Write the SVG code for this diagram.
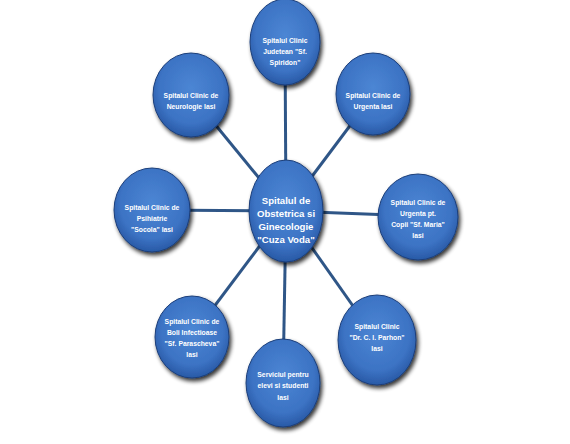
<svg xmlns="http://www.w3.org/2000/svg" width="570" height="444" viewBox="0 0 570 444">
<style>
.n{fill:url(#g);stroke:#1c3f7a;stroke-width:1;filter:url(#sh)}
.t{font-family:"Liberation Sans",Arial,sans-serif;font-size:6.8px;font-weight:bold;fill:#fff;text-anchor:middle}
.tc{font-family:"Liberation Sans",Arial,sans-serif;font-size:9.6px;font-weight:bold;fill:#fff;text-anchor:middle}
.c{stroke:#2f5687;stroke-width:3;fill:none}
</style>
<defs>
<radialGradient id="g" cx="50%" cy="42%" r="60%">
<stop offset="0" stop-color="#4c86d4"/>
<stop offset="0.7" stop-color="#3c73c4"/>
<stop offset="1" stop-color="#2656a2"/>
</radialGradient>
<filter id="sh" x="-30%" y="-30%" width="170%" height="170%">
<feGaussianBlur in="SourceAlpha" stdDeviation="2"/>
<feOffset dx="2" dy="3" result="b"/>
<feComponentTransfer><feFuncA type="linear" slope="0.8"/></feComponentTransfer>
<feMerge><feMergeNode/><feMergeNode in="SourceGraphic"/></feMerge>
</filter>
</defs>
<rect width="570" height="444" fill="#fff"/>
<g id="connectors">
<line class="c" x1="286" y1="211" x2="285" y2="42"/>
<line class="c" x1="286" y1="211" x2="191" y2="95"/>
<line class="c" x1="286" y1="211" x2="373" y2="95"/>
<line class="c" x1="286" y1="211" x2="152" y2="210"/>
<line class="c" x1="286" y1="211" x2="418" y2="216"/>
<line class="c" x1="286" y1="211" x2="192" y2="336"/>
<line class="c" x1="286" y1="211" x2="283" y2="383"/>
<line class="c" x1="286" y1="211" x2="377" y2="340"/>
</g>
<g id="center">
<ellipse class="n" cx="286" cy="211" rx="37" ry="51"/>
<text class="tc" x="286" y="204">Spitalul de</text>
<text class="tc" x="286" y="217">Obstetrica si</text>
<text class="tc" x="286" y="230">Ginecologie</text>
<text class="tc" x="286" y="243">"Cuza Voda"</text>
</g>
<g id="spiridon">
<ellipse class="n" cx="285" cy="42" rx="35" ry="43"/>
<text class="t" x="285" y="43">Spitalul Clinic</text>
<text class="t" x="285" y="54">Judetean "Sf.</text>
<text class="t" x="285" y="65">Spiridon"</text>
</g>
<g id="neurologie">
<ellipse class="n" cx="191" cy="95" rx="38" ry="42"/>
<text class="t" x="191" y="98">Spitalul Clinic de</text>
<text class="t" x="191" y="109">Neurologie Iasi</text>
</g>
<g id="urgenta">
<ellipse class="n" cx="373" cy="94" rx="37" ry="41"/>
<text class="t" x="373" y="98">Spitalul Clinic de</text>
<text class="t" x="373" y="109">Urgenta Iasi</text>
</g>
<g id="psihiatrie">
<ellipse class="n" cx="152" cy="210" rx="38" ry="42"/>
<text class="t" x="152" y="210">Spitalul Clinic de</text>
<text class="t" x="152" y="221">Psihiatrie</text>
<text class="t" x="152" y="232">"Socola" Iasi</text>
</g>
<g id="copii">
<ellipse class="n" cx="418" cy="217" rx="40" ry="43"/>
<text class="t" x="418" y="205">Spitalul Clinic de</text>
<text class="t" x="418" y="216">Urgenta pt.</text>
<text class="t" x="418" y="227">Copii "Sf. Maria"</text>
<text class="t" x="418" y="238">Iasi</text>
</g>
<g id="boli">
<ellipse class="n" cx="192" cy="337" rx="37" ry="41"/>
<text class="t" x="192" y="324">Spitalul Clinic de</text>
<text class="t" x="192" y="335">Boli Infectioase</text>
<text class="t" x="192" y="346">"Sf. Parascheva"</text>
<text class="t" x="192" y="357">Iasi</text>
</g>
<g id="serviciul">
<ellipse class="n" cx="283" cy="383" rx="37" ry="44"/>
<text class="t" x="283" y="377">Serviciul pentru</text>
<text class="t" x="283" y="388">elevi si studenti</text>
<text class="t" x="283" y="400">Iasi</text>
</g>
<g id="parhon">
<ellipse class="n" cx="377" cy="340" rx="39" ry="45"/>
<text class="t" x="377" y="329">Spitalul Clinic</text>
<text class="t" x="377" y="340">"Dr. C. I. Parhon"</text>
<text class="t" x="377" y="351">Iasi</text>
</g>
</svg>
